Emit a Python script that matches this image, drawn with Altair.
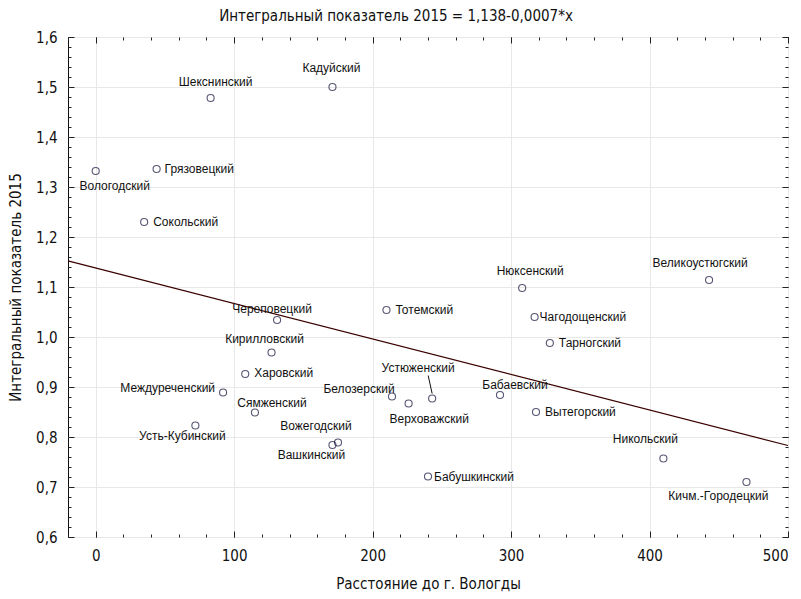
import altair as alt
import pandas as pd

# ---- data ----
names = ["Вологодский", "Грязовецкий", "Сокольский", "Шекснинский", "Кадуйский",
         "Череповецкий", "Кирилловский", "Харовский", "Междуреченский", "Сямженский",
         "Усть-Кубинский", "Вожегодский", "Вашкинский", "Тотемский", "Белозерский",
         "Верховажский", "Устюженский", "Бабушкинский", "Бабаевский", "Нюксенский",
         "Великоустюгский", "Чагодощенский", "Тарногский", "Вытегорский", "Никольский",
         "Кичм.-Городецкий"]
distance = [0, 44, 35, 83, 171,
            131, 127, 108, 92, 115,
            72, 175, 171, 210, 214,
            226, 243, 240, 292, 308,
            443, 317, 328, 318, 410,
            470]
index_2015 = [1.332, 1.336, 1.230, 1.478, 1.500,
              1.034, 0.969, 0.926, 0.889, 0.849,
              0.823, 0.789, 0.784, 1.054, 0.881,
              0.867, 0.877, 0.721, 0.884, 1.098,
              1.114, 1.040, 0.988, 0.850, 0.757,
              0.710]

# regression stated in the title (slope shown rounded there)
intercept = 1.138
slope = -0.00071

x_domain = [-20, 500]
y_domain = [0.6, 1.6]
x_major = [0, 100, 200, 300, 400, 500]
y_major = [0.6, 0.7, 0.8, 0.9, 1.0, 1.1, 1.2, 1.3, 1.4, 1.5, 1.6]
x_minor = list(range(-20, 501, 20))
y_minor = [round(0.6 + 0.02 * i, 2) for i in range(51)]

title_text = "Интегральный показатель 2015 = 1,138-0,0007*x"
x_title = "Расстояние до г. Вологды"
y_title = "Интегральный показатель 2015"

df = pd.DataFrame({"name": names, "dist": distance, "val": index_2015})
line_df = pd.DataFrame({"dist": x_domain,
                        "val": [intercept + slope * x for x in x_domain]})

# label placement (align, dx, dy) relative to each point
placement = {
    "Вологодский": ("center", 19, 15),
    "Грязовецкий": ("left", 8, 0),
    "Сокольский": ("left", 9, 0),
    "Шекснинский": ("center", 5, -16),
    "Кадуйский": ("center", -1, -19),
    "Череповецкий": ("center", -5, -11),
    "Кирилловский": ("center", -7, -14),
    "Харовский": ("left", 9, -1),
    "Междуреченский": ("right", -8, -5),
    "Сямженский": ("center", 17, -10),
    "Усть-Кубинский": ("center", -13, 10),
    "Вожегодский": ("center", -22, -17),
    "Вашкинский": ("center", -21, 10),
    "Тотемский": ("left", 9, 0),
    "Белозерский": ("center", -33, -8),
    "Верховажский": ("left", -19, 15),
    "Устюженский": ("center", -14, -31),
    "Бабушкинский": ("left", 6, 0),
    "Бабаевский": ("center", 15, -10),
    "Нюксенский": ("center", 8, -17),
    "Великоустюгский": ("center", -9, -17),
    "Чагодощенский": ("left", 5, 0),
    "Тарногский": ("left", 9, 0),
    "Вытегорский": ("left", 9, 0),
    "Никольский": ("center", -18, -20),
    "Кичм.-Городецкий": ("right", 22, 14),
}

FONT_LABEL = "Liberation Sans, Arial, sans-serif"
FONT_AXIS = "Liberation Sans Narrow, Arial Narrow, DejaVu Sans Condensed, Liberation Sans, sans-serif"
INK = "#111111"

xscale = alt.Scale(domain=x_domain, nice=False, zero=False)
yscale = alt.Scale(domain=y_domain, nice=False, zero=False)


def tick_axis(orient, values, size):
    return alt.Axis(orient=orient, values=values, tickSize=size, offset=-size,
                    labels=False, domain=False, grid=False, title=None,
                    tickColor="#222222", tickWidth=1)


# main points with labelled axes + grid
points = alt.Chart(df).mark_point(shape="circle", filled=False, size=50,
                                  color="#10103a", strokeWidth=1.1).encode(
    x=alt.X("dist:Q", scale=xscale,
            axis=alt.Axis(orient="bottom", values=x_major, grid=True,
                          gridColor="#e8e8e8", gridWidth=1, ticks=False, domain=False,
                          labelPadding=11, labelFont=FONT_AXIS, labelFontSize=15,
                          labelColor=INK, title=x_title, titleFont=FONT_AXIS,
                          titleFontSize=15, titleFontWeight="normal", titleColor=INK,
                          titlePadding=13)),
    y=alt.Y("val:Q", scale=yscale,
            axis=alt.Axis(orient="left", values=y_major, grid=True,
                          gridColor="#e8e8e8", gridWidth=1, ticks=False, domain=False,
                          labelExpr="replace(format(datum.value, '.1f'), '.', ',')",
                          labelPadding=11, labelFont=FONT_AXIS, labelFontSize=15,
                          labelColor=INK, title=y_title, titleFont=FONT_AXIS,
                          titleFontSize=15, titleFontWeight="normal", titleColor=INK,
                          titlePadding=12)),
)

# regression line (carries inner minor ticks bottom/left)
reg = alt.Chart(line_df).mark_line(color="#3a0000", strokeWidth=1.2).encode(
    x=alt.X("dist:Q", scale=xscale, axis=tick_axis("bottom", x_minor, 3)),
    y=alt.Y("val:Q", scale=yscale, axis=tick_axis("left", y_minor, 3)),
)

# invisible layers that carry the remaining inner tick axes
def carrier(xa, ya):
    return alt.Chart(df).mark_point(opacity=0).encode(
        x=alt.X("dist:Q", scale=xscale, axis=xa),
        y=alt.Y("val:Q", scale=yscale, axis=ya),
    )

c1 = carrier(tick_axis("top", x_minor, 3), tick_axis("right", y_minor, 3))
c2 = carrier(tick_axis("bottom", x_major, 6), tick_axis("left", y_major, 6))
c3 = carrier(tick_axis("top", x_major, 6), tick_axis("right", y_major, 6))

# labels
label_layers = []
for nm in names:
    al, dx, dy = placement[nm]
    label_layers.append(
        alt.Chart(df).transform_filter(alt.datum.name == nm).mark_text(
            align=al, baseline="middle", dx=dx, dy=dy, font=FONT_LABEL,
            fontSize=12, color=INK).encode(
            x=alt.X("dist:Q", scale=xscale, axis=None),
            y=alt.Y("val:Q", scale=yscale, axis=None),
            text="name:N",
        )
    )

# connector for Устюженский label
connector = alt.Chart(df).transform_filter(alt.datum.name == "Устюженский").mark_rule(
    color=INK, strokeWidth=1, yOffset=-5, y2Offset=-23, x2Offset=-4).encode(
    x=alt.X("dist:Q", scale=xscale, axis=None),
    y=alt.Y("val:Q", scale=yscale, axis=None),
    x2="dist:Q",
    y2="val:Q",
)

chart = alt.layer(points, reg, c1, c2, c3, connector, *label_layers).resolve_axis(
    x="independent", y="independent"
).properties(
    width=720, height=500,
    autosize=alt.AutoSizeParams(type="none"),
    padding={"left": 60, "top": 29, "right": 5, "bottom": 58},
    title=alt.Title(title_text, font=FONT_AXIS, fontSize=15, fontWeight="normal",
                    color=INK, anchor="middle", frame="group", dx=-32, offset=6),
    background="white",
).configure_view(stroke="#111111", strokeWidth=1)

chart.save("out.html", embed_options={"renderer": "svg", "actions": False})
